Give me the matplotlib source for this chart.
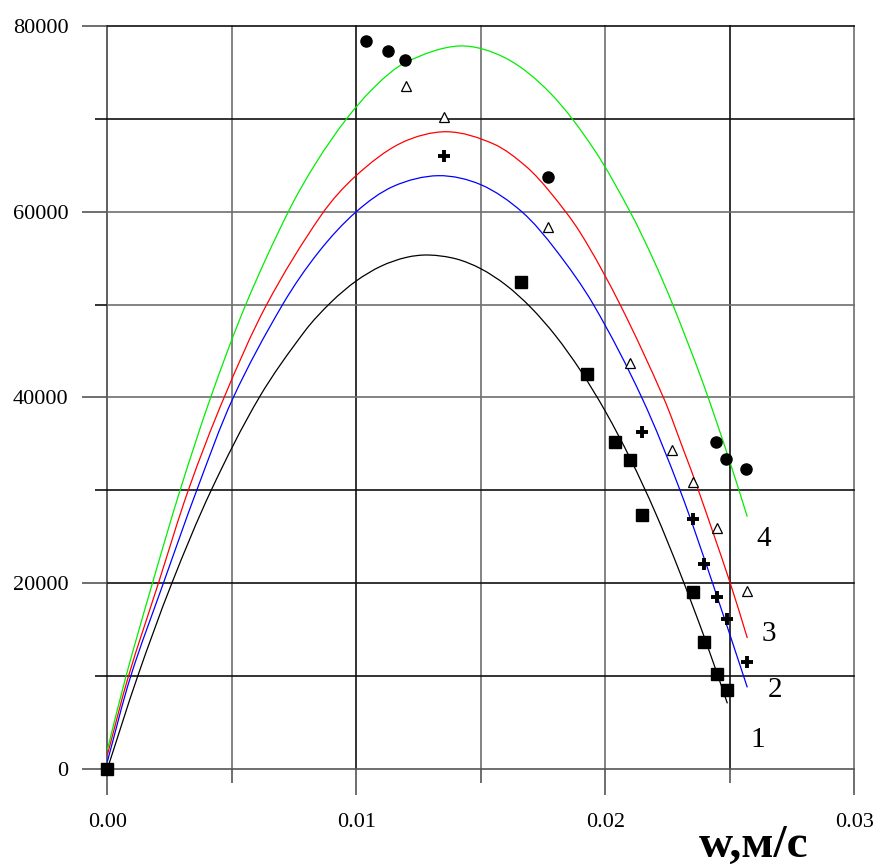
import matplotlib
matplotlib.use("Agg")
import matplotlib.pyplot as plt
from matplotlib.path import Path
from matplotlib.patches import PathPatch
import numpy as np

plt.rcParams['font.family'] = ['Liberation Serif', 'DejaVu Serif']

# ---- fitted curves ----
c1_x = [0, 0.00122, 0.00259, 0.00417, 0.0061, 0.00794, 0.0090, 0.0100, 0.0110, 0.0120, 0.01289,
        0.0140, 0.0150, 0.0160, 0.0170, 0.0180, 0.0190, 0.0200, 0.0210, 0.0220, 0.0230, 0.0240, 0.0249]
c1_y = [0, 10000, 20000, 30000, 40000, 47170, 50290, 52550, 54140, 55070, 55330,
        54920, 53850, 52110, 49700, 46640, 42900, 38500, 33420, 27650, 21100, 14000, 7070]

c2_x = [0, 0.00094, 0.00225, 0.00359, 0.00506, 0.00704, 0.0085, 0.0100, 0.0115, 0.01329,
        0.0150, 0.01664, 0.0180, 0.01952, 0.02146, 0.0230, 0.02427, 0.0257]
c2_y = [800, 10000, 20000, 30000, 40000, 50000, 55700, 60000, 62740, 63870,
        62900, 60000, 55900, 50000, 40000, 30000, 20300, 8790]

c3_x = [0, 0.00085, 0.00205, 0.00325, 0.00469, 0.0064, 0.00861, 0.0100, 0.0118, 0.01363,
        0.0155, 0.0168, 0.01778, 0.0190, 0.02059, 0.02233, 0.02313, 0.02369, 0.02501, 0.0257]
c3_y = [1500, 10000, 20000, 30000, 40000, 50000, 59700, 63900, 67390, 68600,
        67300, 64900, 62100, 57700, 50000, 40000, 34400, 30350, 20050, 14100]

c4_x = [0, 0.00075, 0.00181, 0.00292, 0.00415, 0.00556, 0.00727, 0.0084, 0.00961, 0.0108, 0.0120, 0.01414,
        0.0160, 0.01778, 0.01952, 0.02099, 0.0219, 0.02269, 0.02387, 0.02485, 0.0257]
c4_y = [2050, 10000, 20000, 30000, 40000, 50000, 60000, 65340, 70000, 73600, 76090, 77830,
        76520, 72780, 66800, 60000, 55000, 50100, 41920, 34300, 27160]

# ---- experimental points ----
p1_x = [0, 0.0166, 0.01928, 0.02039, 0.02097, 0.02149, 0.0235, 0.02396, 0.0245, 0.0249]
p1_y = [0, 52390, 42520, 35230, 33260, 27340, 19020, 13640, 10230, 8500]

p2_x = [0.0135, 0.02149, 0.0235, 0.02396, 0.0245, 0.0249, 0.0257]
p2_y = [66020, 36240, 26880, 22030, 18550, 16110, 11490]

p3_x = [0.01201, 0.0135, 0.01771, 0.02099, 0.02269, 0.0235, 0.02447, 0.02568]
p3_y = [73550, 70150, 58310, 43670, 34340, 30930, 25970, 19160]

p4_x = [0.01039, 0.01129, 0.01197, 0.01769, 0.02445, 0.02485, 0.02565]
p4_y = [78400, 77320, 76320, 63760, 35230, 33340, 32330]

curve_labels = ["1", "2", "3", "4"]
label_x = [0.0261, 0.02682, 0.02655, 0.02637]
label_y = [3120, 8500, 14530, 24730]

x_ticks = [0.0, 0.01, 0.02, 0.03]
x_tick_labels = ["0.00", "0.01", "0.02", "0.03"]
y_ticks = [0, 20000, 40000, 60000, 80000]
y_tick_labels = ["0", "20000", "40000", "60000", "80000"]
x_label = "w,м/с"

XMAX, YMAX = 0.03, 80000


def smooth_path(xs, ys):
    """Smooth (Bezier) path drawn through the given points, like a 'smoothed line'."""
    P = np.column_stack([np.asarray(xs) / XMAX, np.asarray(ys) / YMAX])
    d = np.r_[0, np.cumsum(np.hypot(*np.diff(P, axis=0).T))]
    n = len(P)
    m = np.zeros_like(P)
    for i in range(n):
        a, b = max(i - 1, 0), min(i + 1, n - 1)
        m[i] = (P[b] - P[a]) / (d[b] - d[a])
    verts = [P[0]]
    codes = [Path.MOVETO]
    for i in range(n - 1):
        h = d[i + 1] - d[i]
        verts += [P[i] + m[i] * h / 3, P[i + 1] - m[i + 1] * h / 3, P[i + 1]]
        codes += [Path.CURVE4] * 3
    V = np.array(verts) * [XMAX, YMAX]
    return Path(V, codes)


fig = plt.figure(figsize=(8.77, 8.67), dpi=100)
ax = fig.add_axes([0.1224, 0.113, 0.8518, 0.8572])
ax.set_xlim(0, XMAX)
ax.set_ylim(0, YMAX)
for s in ax.spines.values():
    s.set_visible(False)

dark = '#111111'
gray = '#6e6e6e'
vcols = {0.0: '#444444', 0.005: gray, 0.01: dark, 0.015: gray, 0.02: gray, 0.025: dark, 0.03: gray}
for xv, c in vcols.items():
    ax.axvline(xv, color=c, lw=1.2, zorder=1, clip_on=False)
hcols = {0: '#555555', 10000: dark, 20000: dark, 30000: dark, 40000: gray, 50000: gray,
         60000: gray, 70000: dark, 80000: dark}
for yv, c in hcols.items():
    ax.axhline(yv, color=c, lw=1.2, zorder=1, clip_on=False)

for cx, cy, col in [(c1_x, c1_y, 'black'), (c2_x, c2_y, '#0000ff'),
                    (c3_x, c3_y, '#ff0000'), (c4_x, c4_y, '#00ee00')]:
    ax.add_patch(PathPatch(smooth_path(cx, cy), fill=False, edgecolor=col, lw=0.9, zorder=2))

ax.plot(p1_x, p1_y, 's', color='black', ms=8.5, zorder=3, clip_on=False)
ax.plot(p2_x, p2_y, '+', color='black', ms=8, mew=2.8, zorder=3, clip_on=False)
ax.plot(p3_x, p3_y, '^', mfc='white', mec='black', ms=6.5, mew=0.9, zorder=3, clip_on=False)
ax.plot(p4_x, p4_y, 'o', color='black', ms=8, zorder=3, clip_on=False)

for t, lx, ly in zip(curve_labels, label_x, label_y):
    ax.text(lx, ly, t, fontsize=21, ha='center', va='center', zorder=4)

ax.set_xticks(x_ticks)
ax.set_xticklabels(x_tick_labels)
ax.set_xticks([0.005, 0.015, 0.025], minor=True)
ax.set_yticks(y_ticks)
ax.set_yticklabels(y_tick_labels)
ax.set_yticks([10000, 30000, 50000, 70000], minor=True)
ax.tick_params(axis='x', which='major', length=19, width=1.2, color='#555555', pad=13, labelsize=16)
ax.tick_params(axis='x', which='minor', length=10, width=1.2, color='#555555')
ax.tick_params(axis='y', which='major', length=18, width=1.2, color='#555555', pad=10, labelsize=16)
ax.tick_params(axis='y', which='minor', length=9, width=1.2, color='#111111')

fig.text(754 / 877, 1 - 857 / 867, x_label, fontsize=34, fontweight='bold', ha='center', va='baseline')

fig.savefig("out.png", dpi=100)
